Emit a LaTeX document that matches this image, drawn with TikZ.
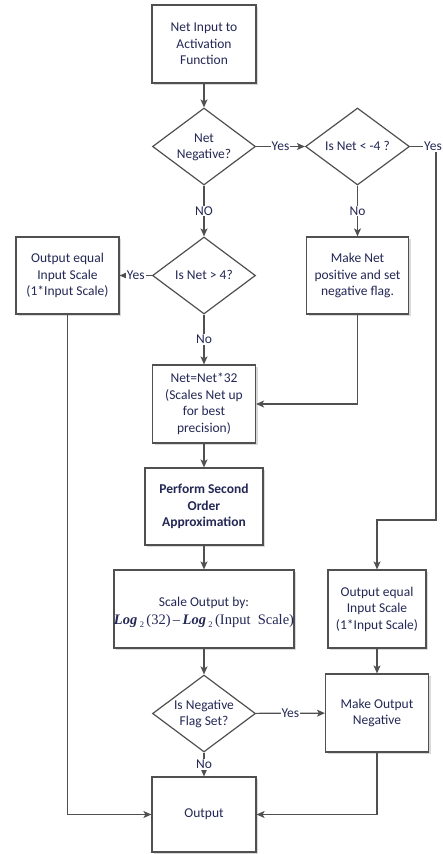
\documentclass[tikz,border=0pt]{standalone}
\usepackage{fontspec}
\setmainfont{Carlito}
\newfontfamily\tnr{Liberation Serif}
\usetikzlibrary{shapes.geometric,arrows.meta,shadows}
\definecolor{txt}{RGB}{35,40,85}
\definecolor{ln}{RGB}{80,80,80}
\newcommand{\dtxt}[1]{\makebox[0pt][c]{\raisebox{-0.3em}[0pt][0pt]{\begin{tabular}{@{}c@{}}#1\end{tabular}}}}
\newcommand{\lgsub}{\raisebox{-3pt}{\fontsize{8.5}{8.5}\selectfont 2}}
\tikzset{
  base/.style={font=\fontsize{13.5}{16.5}\selectfont, text=txt},
  box/.style={base, draw=ln, line width=1.2pt, fill=white, align=center, inner sep=0pt,
    drop shadow={shadow xshift=2pt, shadow yshift=-2pt, fill=black!25, opacity=0.6}},
  dia/.style={base, draw=ln, line width=1.2pt, fill=white, shape=diamond, inner sep=0pt,
    minimum width=103pt, minimum height=77pt},
  conn/.style={draw=ln, line width=1.2pt},
  arr/.style={conn, -{Stealth[length=8pt,width=7pt,inset=2pt]}},
  lab/.style={base, fill=white, inner sep=1pt},
}
\begin{document}
\begin{tikzpicture}[x=1pt,y=-1pt]
\useasboundingbox (0,0) rectangle (443,854);
% nodes
\node[box, minimum width=104pt, minimum height=78pt] (b1) at (204,44) {Net Input to\\Activation\\Function};
\node[dia] (d1) at (204,146.5) {\dtxt{Net\\Negative?}};
\node[dia, minimum width=104pt] (d2) at (357.5,146.5) {\dtxt{Is Net < -4 ?}};
\node[dia] (d3) at (204,275.5) {\dtxt{Is Net > 4?}};
\node[box, minimum width=103pt, minimum height=77pt] (bL) at (67.5,275.5) {Output equal\\Input Scale\\(1*Input Scale)};
\node[box, minimum width=102pt, minimum height=77pt] (bMN) at (357.5,275.5) {Make Net\\positive and set\\negative flag.};
\node[box, minimum width=103pt, minimum height=78pt] (bNet) at (204,404) {Net=Net*32\\(Scales Net up\\for best\\precision)};
\node[box, minimum width=118pt, minimum height=77pt] (bPSO) at (204,506.5) {\textbf{Perform Second}\\\textbf{Order}\\\textbf{Approximation}};
\node[box, minimum width=180pt, minimum height=78pt] (bSc) at (204,609) {\mbox{}\\Scale Output by:\\[1pt] {\tnr\fontsize{14.5}{16}\selectfont\textbf{\textit{Log}}\,\lgsub\,(32)\,–\,\textbf{\textit{Log}}\,\lgsub\,(Input\ \ Scale)}};
\node[box, minimum width=98pt, minimum height=78pt] (bR) at (377,609) {Output equal\\Input Scale\\(1*Input Scale)};
\node[dia] (d4) at (204,713.5) {\dtxt{Is Negative\\Flag Set?}};
\node[box, minimum width=103pt, minimum height=78pt] (bMO) at (377,713) {Make Output\\Negative};
\node[box, minimum width=104pt, minimum height=75pt] (bOut) at (204,814.5) {Output};
% corner coordinates
\coordinate (cY) at (436,146.5);
\coordinate (cC) at (436,520);
% connectors
\draw[arr] (b1) -- (d1);
\draw[arr] (d1) -- node[lab] (y1) {Yes} (d2);
\draw[arr] (d2.east) -- (cY) -- (cC) -| (bR.north);
\node[lab, anchor=west] (y2) at (423,146.5) {Yes};
\draw[arr] (d1) -- node[lab] (n1) {NO} (d3);
\draw[arr] (d2) -- node[lab] (n2) {No} (bMN);
\draw[arr] (d3) -- node[lab] (y3) {Yes} (bL);
\draw[arr] (d3) -- node[lab] (n3) {No} (bNet);
\draw[arr] (bMN.south) |- (bNet.east);
\draw[arr] (bNet) -- (bPSO);
\draw[arr] (bPSO) -- (bSc);
\draw[arr] (bSc) -- (d4);
\draw[arr] (bR) -- (bMO);
\draw[arr] (d4) -- node[lab] (y4) {Yes} (bMO);
\draw[arr] (d4) -- node[lab] (n4) {No} (bOut);
\draw[arr] (bL.south) |- (bOut.west);
\draw[arr] (bMO.south) |- (bOut.east);
\end{tikzpicture}
\end{document}
